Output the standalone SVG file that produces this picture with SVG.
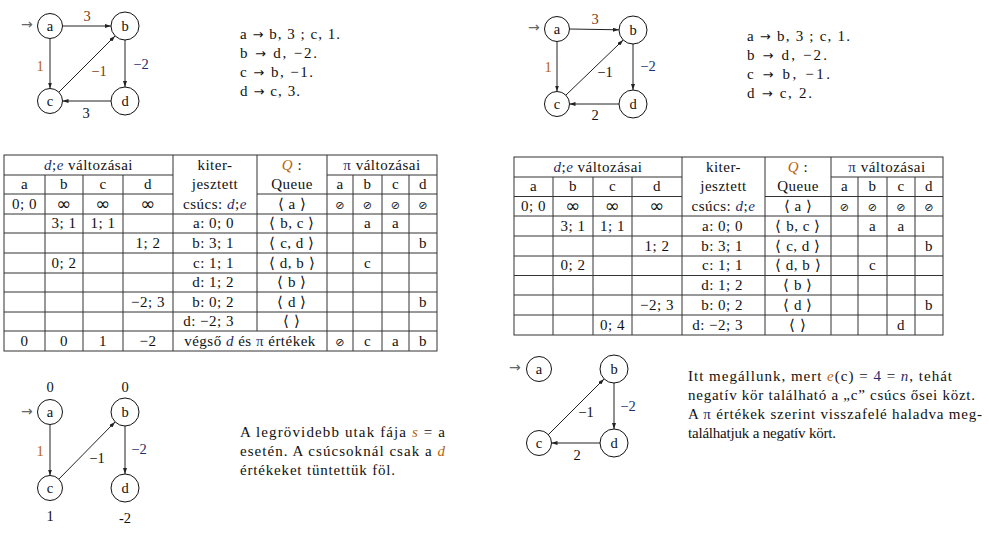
<svg xmlns="http://www.w3.org/2000/svg" width="989" height="541" viewBox="0 0 989 541">
<style>
text{fill:#111}
.c{text-anchor:middle}
.e{text-anchor:end}
.grid text{letter-spacing:0.5px}
.node circle{fill:#fff;stroke:#111;stroke-width:1}
.edge{stroke:#222;stroke-width:1;fill:none;marker-end:url(#ah)}
.in{fill:#666}
.grid line{stroke:#333;stroke-width:1}
.grid rect{fill:none;stroke:#333;stroke-width:1}
.or{fill:#b8640a}
.br{fill:#7a3c10}
.nv{fill:#1d2d6e}
.it{font-style:italic}
</style>
<defs>
<marker id="ah" viewBox="0 0 6 4" refX="6" refY="2" markerWidth="6" markerHeight="4" markerUnits="userSpaceOnUse" orient="auto"><path d="M0,0 L6,2 L0,4 z" fill="#222"/></marker>
</defs>
<g font-family="Liberation Serif, serif" font-size="14.5">

<!-- ===== Graph 1 (top-left) ===== -->
<g id="g1-connectors">
<line class="edge" x1="62.5" y1="26" x2="111" y2="26"/>
<line class="edge" x1="50" y1="38.5" x2="50" y2="88.5"/>
<line class="edge" x1="125" y1="40" x2="125" y2="87"/>
<line class="edge" x1="111" y1="101" x2="62.5" y2="101"/>
<line class="edge" x1="58.8" y1="92.2" x2="115.1" y2="35.9"/>
<text class="in" x="21" y="29" font-family="DejaVu Sans, sans-serif" font-size="14">→</text>
<text class="c br" x="87" y="21">3</text>
<text class="c or" x="40" y="71">1</text>
<text class="c br" x="99" y="76">−1</text>
<text class="c nv" x="141" y="69">−2</text>
<text class="c" x="86" y="118">3</text>
</g>
<g id="g1-a" class="node"><circle cx="50" cy="26" r="12.5"/><text class="c" x="50" y="30.5">a</text></g>
<g id="g1-b" class="node"><circle cx="125" cy="26" r="14"/><text class="c" x="125" y="30.5">b</text></g>
<g id="g1-c" class="node"><circle cx="50" cy="101" r="12.5"/><text class="c" x="50" y="105.5">c</text></g>
<g id="g1-d" class="node"><circle cx="125" cy="101" r="14"/><text class="c" x="125" y="105.5">d</text></g>

<g id="text1" font-size="15">
<text x="240" y="39" textLength="100" lengthAdjust="spacing">a <tspan font-family="DejaVu Sans, sans-serif" font-size="13">→</tspan> b, 3 ; c, 1.</text>
<text x="240" y="58" textLength="77" lengthAdjust="spacing">b <tspan font-family="DejaVu Sans, sans-serif" font-size="13">→</tspan> d, −2.</text>
<text x="240" y="77" textLength="73" lengthAdjust="spacing">c <tspan font-family="DejaVu Sans, sans-serif" font-size="13">→</tspan> b, −1.</text>
<text x="240" y="96" textLength="60" lengthAdjust="spacing">d <tspan font-family="DejaVu Sans, sans-serif" font-size="13">→</tspan> c, 3.</text>
</g>

<!-- ===== Graph 2 (top-right) ===== -->
<g id="g2-connectors">
<line class="edge" x1="569.5" y1="29" x2="619" y2="29.8"/>
<line class="edge" x1="557" y1="41.5" x2="557" y2="91.5"/>
<line class="edge" x1="633" y1="44" x2="633" y2="90"/>
<line class="edge" x1="619" y1="104" x2="569.5" y2="104"/>
<line class="edge" x1="565.8" y1="95.2" x2="623.2" y2="40"/>
<text class="in" x="528" y="32" font-family="DejaVu Sans, sans-serif" font-size="14">→</text>
<text class="c br" x="595" y="24">3</text>
<text class="c or" x="548" y="72">1</text>
<text class="c" x="605" y="77">−1</text>
<text class="c nv" x="648" y="71">−2</text>
<text class="c" x="595" y="120">2</text>
</g>
<g id="g2-a" class="node"><circle cx="557" cy="29" r="12.5"/><text class="c" x="557" y="33.5">a</text></g>
<g id="g2-b" class="node"><circle cx="633" cy="30" r="14"/><text class="c" x="633" y="34.5">b</text></g>
<g id="g2-c" class="node"><circle cx="557" cy="104" r="12.5"/><text class="c" x="557" y="108.5">c</text></g>
<g id="g2-d" class="node"><circle cx="633" cy="104" r="14"/><text class="c" x="633" y="108.5">d</text></g>

<g id="text2" font-size="15">
<text x="747" y="41" textLength="103" lengthAdjust="spacing">a <tspan font-family="DejaVu Sans, sans-serif" font-size="13">→</tspan> b, 3 ; c, 1.</text>
<text x="747" y="60" textLength="80" lengthAdjust="spacing">b <tspan font-family="DejaVu Sans, sans-serif" font-size="13">→</tspan> d, −2.</text>
<text x="747" y="79" textLength="83" lengthAdjust="spacing">c <tspan font-family="DejaVu Sans, sans-serif" font-size="13">→</tspan> b, −1.</text>
<text x="747" y="98" textLength="65" lengthAdjust="spacing">d <tspan font-family="DejaVu Sans, sans-serif" font-size="13">→</tspan> c, 2.</text>
</g>

<!-- ===== Table 1 ===== -->
<g id="table1" class="grid" font-size="15">
<rect x="4" y="155" width="433" height="196"/>
<line x1="45" y1="175" x2="45" y2="351"/>
<line x1="83" y1="175" x2="83" y2="351"/>
<line x1="123" y1="175" x2="123" y2="351"/>
<line x1="173" y1="155" x2="173" y2="351"/>
<line x1="257" y1="155" x2="257" y2="331"/>
<line x1="327" y1="155" x2="327" y2="351"/>
<line x1="353" y1="175" x2="353" y2="351"/>
<line x1="382" y1="175" x2="382" y2="351"/>
<line x1="409" y1="175" x2="409" y2="351"/>
<line x1="4" y1="175" x2="173" y2="175"/><line x1="327" y1="175" x2="437" y2="175"/>
<line x1="4" y1="194" x2="173" y2="194"/><line x1="257" y1="194" x2="437" y2="194"/>
<line x1="4" y1="214" x2="437" y2="214"/>
<line x1="4" y1="233" x2="437" y2="233"/>
<line x1="4" y1="253" x2="437" y2="253"/>
<line x1="4" y1="273" x2="437" y2="273"/>
<line x1="4" y1="292" x2="437" y2="292"/>
<line x1="4" y1="312" x2="437" y2="312"/>
<line x1="4" y1="331" x2="437" y2="331"/>

<text class="c" x="88.5" y="169.5"><tspan class="it nv">d</tspan>;<tspan class="it nv">e</tspan> változásai</text>
<text class="c" x="215" y="169.5">kiter-</text>
<text class="c" x="215" y="189">jesztett</text>
<text class="c" x="215" y="208.5">csúcs: <tspan class="it nv">d</tspan>;<tspan class="it nv">e</tspan></text>
<text class="c" x="292" y="169.5"><tspan class="it or">Q</tspan> :</text>
<text class="c" x="292" y="189">Queue</text>
<text class="c" x="382" y="169.5"><tspan class="nv">π</tspan> változásai</text>
<text class="c" x="24.5" y="189">a</text><text class="c" x="64" y="189">b</text><text class="c" x="103" y="189">c</text><text class="c" x="148" y="189">d</text>
<text class="c" x="340" y="189">a</text><text class="c" x="367.5" y="189">b</text><text class="c" x="395.5" y="189">c</text><text class="c" x="423" y="189">d</text>
<!-- row 3 -->
<text class="c" x="24.5" y="208.5">0; 0</text>
<g font-family="DejaVu Sans, sans-serif" font-size="18"><text class="c" x="64" y="209.5">∞</text><text class="c" x="103" y="209.5">∞</text><text class="c" x="148" y="209.5">∞</text></g>
<text class="c" x="292" y="208.5">⟨ a ⟩</text>
<g font-family="DejaVu Sans, sans-serif" font-size="11"><text class="c" x="340" y="208.5">⊘</text><text class="c" x="367.5" y="208.5">⊘</text><text class="c" x="395.5" y="208.5">⊘</text><text class="c" x="423" y="208.5">⊘</text></g>
<!-- row 4 -->
<text class="c" x="64" y="228">3; 1</text><text class="c" x="103" y="228">1; 1</text>
<text class="e" x="234" y="228">a: 0; 0</text>
<text class="c" x="292" y="228">⟨ b, c ⟩</text>
<text class="c" x="367.5" y="228">a</text><text class="c" x="395.5" y="228">a</text>
<!-- row 5 -->
<text class="c" x="148" y="247.5">1; 2</text>
<text class="e" x="234" y="247.5">b: 3; 1</text>
<text class="c" x="292" y="247.5">⟨ c, d ⟩</text>
<text class="c" x="423" y="247.5">b</text>
<!-- row 6 -->
<text class="c" x="64" y="267.5">0; 2</text>
<text class="e" x="234" y="267.5">c: 1; 1</text>
<text class="c" x="292" y="267.5">⟨ d, b ⟩</text>
<text class="c" x="367.5" y="267.5">c</text>
<!-- row 7 -->
<text class="e" x="234" y="287">d: 1; 2</text>
<text class="c" x="292" y="287">⟨ b ⟩</text>
<!-- row 8 -->
<text class="c" x="148" y="306.5">−2; 3</text>
<text class="e" x="234" y="306.5">b: 0; 2</text>
<text class="c" x="292" y="306.5">⟨ d ⟩</text>
<text class="c" x="423" y="306.5">b</text>
<!-- row 9 -->
<text class="e" x="234" y="326">d: −2; 3</text>
<text class="c" x="292" y="326">⟨ ⟩</text>
<!-- row 10 -->
<text class="c" x="24.5" y="345.5">0</text><text class="c" x="64" y="345.5">0</text><text class="c" x="103" y="345.5">1</text><text class="c" x="148" y="345.5">−2</text>
<text class="c" x="250" y="345.5">végső <tspan class="it nv">d</tspan> és <tspan class="nv">π</tspan> értékek</text>
<text class="c" x="340" y="345.5" font-family="DejaVu Sans, sans-serif" font-size="11">⊘</text><text class="c" x="367.5" y="345.5">c</text><text class="c" x="395.5" y="345.5">a</text><text class="c" x="423" y="345.5">b</text>
</g>

<!-- ===== Table 2 ===== -->
<g id="table2" class="grid" font-size="15">
<rect x="514" y="157" width="429" height="178"/>
<line x1="553" y1="177" x2="553" y2="335"/>
<line x1="593" y1="177" x2="593" y2="335"/>
<line x1="632" y1="177" x2="632" y2="335"/>
<line x1="682" y1="157" x2="682" y2="335"/>
<line x1="765" y1="157" x2="765" y2="335"/>
<line x1="831" y1="157" x2="831" y2="335"/>
<line x1="858" y1="177" x2="858" y2="335"/>
<line x1="887" y1="177" x2="887" y2="335"/>
<line x1="915" y1="177" x2="915" y2="335"/>
<line x1="514" y1="177" x2="682" y2="177"/><line x1="831" y1="177" x2="943" y2="177"/>
<line x1="514" y1="196.5" x2="682" y2="196.5"/><line x1="765" y1="196.5" x2="943" y2="196.5"/>
<line x1="514" y1="216" x2="943" y2="216"/>
<line x1="514" y1="236" x2="943" y2="236"/>
<line x1="514" y1="256" x2="943" y2="256"/>
<line x1="514" y1="275.5" x2="943" y2="275.5"/>
<line x1="514" y1="295" x2="943" y2="295"/>
<line x1="514" y1="315" x2="943" y2="315"/>

<text class="c" x="598" y="171.5"><tspan class="it nv">d</tspan>;<tspan class="it nv">e</tspan> változásai</text>
<text class="c" x="723.5" y="171.5">kiter-</text>
<text class="c" x="723.5" y="191">jesztett</text>
<text class="c" x="723.5" y="210.5">csúcs: <tspan class="it nv">d</tspan>;<tspan class="it nv">e</tspan></text>
<text class="c" x="798" y="171.5"><tspan class="it or">Q</tspan> :</text>
<text class="c" x="798" y="191">Queue</text>
<text class="c" x="887" y="171.5"><tspan class="nv">π</tspan> változásai</text>
<text class="c" x="533.5" y="191">a</text><text class="c" x="573" y="191">b</text><text class="c" x="612.5" y="191">c</text><text class="c" x="657" y="191">d</text>
<text class="c" x="844.5" y="191">a</text><text class="c" x="872.5" y="191">b</text><text class="c" x="901" y="191">c</text><text class="c" x="929" y="191">d</text>
<!-- row 3 -->
<text class="c" x="533.5" y="210.5">0; 0</text>
<g font-family="DejaVu Sans, sans-serif" font-size="18"><text class="c" x="573" y="211.5">∞</text><text class="c" x="612.5" y="211.5">∞</text><text class="c" x="657" y="211.5">∞</text></g>
<text class="c" x="798" y="210.5">⟨ a ⟩</text>
<g font-family="DejaVu Sans, sans-serif" font-size="11"><text class="c" x="844.5" y="210.5">⊘</text><text class="c" x="872.5" y="210.5">⊘</text><text class="c" x="901" y="210.5">⊘</text><text class="c" x="929" y="210.5">⊘</text></g>
<!-- row 4 -->
<text class="c" x="573" y="230.5">3; 1</text><text class="c" x="612.5" y="230.5">1; 1</text>
<text class="e" x="743" y="230.5">a: 0; 0</text>
<text class="c" x="798" y="230.5">⟨ b, c ⟩</text>
<text class="c" x="872.5" y="230.5">a</text><text class="c" x="901" y="230.5">a</text>
<!-- row 5 -->
<text class="c" x="657" y="250.5">1; 2</text>
<text class="e" x="743" y="250.5">b: 3; 1</text>
<text class="c" x="798" y="250.5">⟨ c, d ⟩</text>
<text class="c" x="929" y="250.5">b</text>
<!-- row 6 -->
<text class="c" x="573" y="270">0; 2</text>
<text class="e" x="743" y="270">c: 1; 1</text>
<text class="c" x="798" y="270">⟨ d, b ⟩</text>
<text class="c" x="872.5" y="270">c</text>
<!-- row 7 -->
<text class="e" x="743" y="289.5">d: 1; 2</text>
<text class="c" x="798" y="289.5">⟨ b ⟩</text>
<!-- row 8 -->
<text class="c" x="657" y="309.5">−2; 3</text>
<text class="e" x="743" y="309.5">b: 0; 2</text>
<text class="c" x="798" y="309.5">⟨ d ⟩</text>
<text class="c" x="929" y="309.5">b</text>
<!-- row 9 -->
<text class="c" x="612.5" y="329.5">0; 4</text>
<text class="e" x="743" y="329.5">d: −2; 3</text>
<text class="c" x="798" y="329.5">⟨ ⟩</text>
<text class="c" x="901" y="329.5">d</text>
</g>

<!-- ===== Graph 3 (bottom-left) ===== -->
<g id="g3-connectors">
<line class="edge" x1="50" y1="424.5" x2="50" y2="475.5"/>
<line class="edge" x1="125" y1="426" x2="125" y2="474"/>
<line class="edge" x1="58.8" y1="479.2" x2="115.1" y2="421.9"/>
<text class="in" x="21" y="416" font-family="DejaVu Sans, sans-serif" font-size="14">→</text>
<text class="c or" x="40" y="456">1</text>
<text class="c" x="97" y="463">−1</text>
<text class="c nv" x="139" y="454">−2</text>
</g>
<g id="g3-a" class="node"><circle cx="50" cy="412" r="12.5"/><text class="c" x="50" y="416.5">a</text><text class="c" x="50" y="392">0</text></g>
<g id="g3-b" class="node"><circle cx="125" cy="412" r="14"/><text class="c" x="125" y="416.5">b</text><text class="c" x="125" y="392">0</text></g>
<g id="g3-c" class="node"><circle cx="50" cy="488" r="12.5"/><text class="c" x="50" y="492.5">c</text><text class="c" x="50" y="521">1</text></g>
<g id="g3-d" class="node"><circle cx="125" cy="488" r="14"/><text class="c" x="125" y="492.5">d</text><text class="c" x="125" y="523">-2</text></g>

<g id="text3" font-size="15">
<text x="240" y="437" textLength="205" lengthAdjust="spacing">A legrövidebb utak fája <tspan class="it or">s</tspan> = a</text>
<text x="240" y="456" textLength="205" lengthAdjust="spacing">esetén. A csúcsoknál csak a <tspan class="it or">d</tspan></text>
<text x="240" y="475" textLength="155" lengthAdjust="spacing">értékeket tüntettük föl.</text>
</g>

<!-- ===== Graph 4 (bottom-right) ===== -->
<g id="g4-connectors">
<line class="edge" x1="547.8" y1="435.2" x2="604.1" y2="378.9"/>
<line class="edge" x1="614" y1="383" x2="614" y2="429"/>
<line class="edge" x1="600" y1="443" x2="551.5" y2="443"/>
<text class="in" x="509" y="372" font-family="DejaVu Sans, sans-serif" font-size="14">→</text>
<text class="c" x="586" y="417">−1</text>
<text class="c nv" x="628" y="411">−2</text>
<text class="c" x="577" y="460">2</text>
</g>
<g id="g4-a" class="node"><circle cx="539" cy="369" r="12.5"/><text class="c" x="539" y="373.5">a</text></g>
<g id="g4-b" class="node"><circle cx="614" cy="369" r="14"/><text class="c" x="614" y="373.5">b</text></g>
<g id="g4-c" class="node"><circle cx="539" cy="443" r="12.5"/><text class="c" x="539" y="447.5">c</text></g>
<g id="g4-d" class="node"><circle cx="614" cy="443" r="14"/><text class="c" x="614" y="447.5">d</text></g>

<g id="text4" font-size="15">
<text x="688" y="381" textLength="264" lengthAdjust="spacing">Itt megállunk, mert <tspan class="it or">e</tspan>(c) = <tspan class="nv">4</tspan> = <tspan class="it nv">n</tspan>, tehát</text>
<text x="688" y="400" textLength="287" lengthAdjust="spacing">negatív kör található a „c” csúcs ősei közt.</text>
<text x="688" y="419" textLength="294" lengthAdjust="spacing">A <tspan class="nv">π</tspan> értékek szerint visszafelé haladva meg-</text>
<text x="688" y="438" textLength="148" lengthAdjust="spacing">találhatjuk a negatív kört.</text>
</g>
</g>
</svg>
